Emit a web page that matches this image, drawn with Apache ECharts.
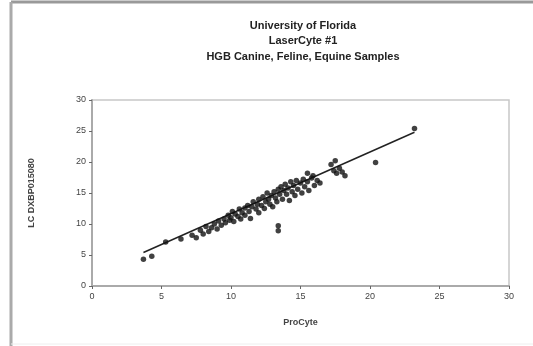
<!DOCTYPE html>
<html lang="en">
<head>
  <meta charset="UTF-8">
  <title>HGB Canine, Feline, Equine Samples</title>
  <style>
    html, body { margin: 0; padding: 0; background: #fff; }
    #main { width: 533px; height: 346px; }
  </style>
</head>
<body>
  <div id="main"></div>

  <script src="https://cdn.jsdelivr.net/npm/echarts@6/dist/echarts.min.js"></script>
  <script>
    // ProCyte (x) vs LaserCyte (y) HGB values
    var procyte = [3.7, 4.3, 5.3, 6.4, 7.2, 7.5, 7.8, 8.0, 8.2, 8.4, 8.6, 8.8, 9.0, 9.1, 9.3, 9.5, 9.6, 9.8, 9.9, 10.0,
      10.1, 10.2, 10.3, 10.5, 10.6, 10.7, 10.8, 11.0, 11.0, 11.2, 11.3, 11.4, 11.5, 11.6, 11.8, 11.9, 12.0, 12.0, 12.2, 12.3,
      12.4, 12.5, 12.6, 12.7, 12.8, 12.9, 13.0, 13.1, 13.2, 13.3, 13.4, 13.5, 13.6, 13.7, 13.8, 13.9, 14.0, 14.1, 14.2, 14.3,
      14.4, 14.5, 14.6, 14.7, 14.8, 15.0, 15.1, 15.2, 15.3, 15.5, 15.6, 15.8, 16.0, 16.2, 16.4, 15.5, 15.9, 17.2, 17.4, 17.5,
      17.6, 17.8, 18.0, 18.2, 20.4, 23.2, 13.4, 13.4]
    var laserCyte = [4.3, 4.8, 7.1, 7.6, 8.2, 7.8, 9.0, 8.4, 9.6, 8.8, 9.4, 10.0, 9.2, 10.5, 9.8, 10.8, 10.2, 11.4, 10.6, 11.0,
      12.0, 10.4, 11.6, 11.2, 12.4, 10.8, 11.8, 12.6, 11.4, 13.0, 12.0, 10.9, 12.8, 13.6, 12.4, 13.2, 14.0, 11.8, 13.0, 14.4,
      12.5, 13.6, 15.0, 14.0, 13.2, 14.6, 12.8, 15.2, 14.2, 13.6, 15.6, 14.8, 16.0, 14.0, 15.4, 16.4, 14.8, 15.8, 13.8, 16.8,
      15.2, 16.2, 14.6, 17.0, 15.6, 16.6, 15.0, 17.2, 16.0, 18.2, 15.4, 17.4, 16.2, 17.0, 16.6, 16.8, 17.8, 19.6, 18.6, 20.2,
      18.2, 19.0, 18.4, 17.8, 19.9, 25.4, 9.7, 8.9]
    // trendline end points
    var trendX = [3.7, 23.2]
    var trendY = [5.4, 24.8]
    var ticks = [0, 5, 10, 15, 20, 25, 30]

    var points = procyte.map(function (x, i) { return [x, laserCyte[i]] })
    var trend = trendX.map(function (x, i) { return [x, trendY[i]] })

    var myChart = echarts.init(document.getElementById('main'))
    var labelStyle = { color: '#444', fontSize: 9, fontFamily: 'Liberation Sans', margin: 6 }

    var options = {
      animation: false,
      backgroundColor: '#fff',
      title: {
        text: 'University of Florida\nLaserCyte #1\nHGB Canine, Feline, Equine Samples',
        left: 298,
        top: 13,
        textAlign: 'center',
        textStyle: { fontFamily: 'Liberation Sans', fontSize: 11, fontWeight: 'bold', color: '#222', lineHeight: 15.5 }
      },
      grid: {
        left: 92, right: 24, top: 100, bottom: 60,
        show: true, borderColor: '#c8c8c8', borderWidth: 1.5
      },
      xAxis: {
        type: 'value', min: 0, max: 30, interval: 5,
        name: 'ProCyte', nameLocation: 'middle', nameGap: 32,
        nameTextStyle: { fontFamily: 'Liberation Sans', fontSize: 9, fontWeight: 'bold', color: '#444' },
        axisLine: { show: true, lineStyle: { color: '#aaa', width: 2 } },
        axisTick: { show: true, length: 3, lineStyle: { color: '#666' } },
        axisLabel: labelStyle,
        splitLine: { show: false }
      },
      yAxis: {
        type: 'value', min: 0, max: 30, interval: 5,
        name: 'LC DXBP015080', nameLocation: 'middle', nameGap: 56,
        nameTextStyle: { fontFamily: 'Liberation Sans', fontSize: 9, fontWeight: 'bold', color: '#444' },
        axisLine: { show: true, lineStyle: { color: '#aaa', width: 2 } },
        axisTick: { show: true, length: 3, lineStyle: { color: '#666' } },
        axisLabel: labelStyle,
        splitLine: { show: false }
      },
      graphic: [
        { type: 'line', shape: { x1: 11, y1: 2, x2: 533, y2: 2 }, style: { stroke: '#999', lineWidth: 3 } },
        { type: 'line', shape: { x1: 11, y1: 2, x2: 11, y2: 346 }, style: { stroke: '#aaa', lineWidth: 3 } },
        { type: 'line', shape: { x1: 11, y1: 344, x2: 533, y2: 344 }, style: { stroke: '#eee', lineWidth: 1 } }
      ],
      series: [
        {
          type: 'line',
          data: trend,
          symbol: 'none',
          lineStyle: { color: '#222', width: 1.5 },
          z: 1
        },
        {
          type: 'scatter',
          data: points,
          symbol: 'circle',
          symbolSize: 5.5,
          itemStyle: { color: '#111' },
          z: 2
        }
      ]
    }

    myChart.setOption(options)
  </script>
</body>
</html>
